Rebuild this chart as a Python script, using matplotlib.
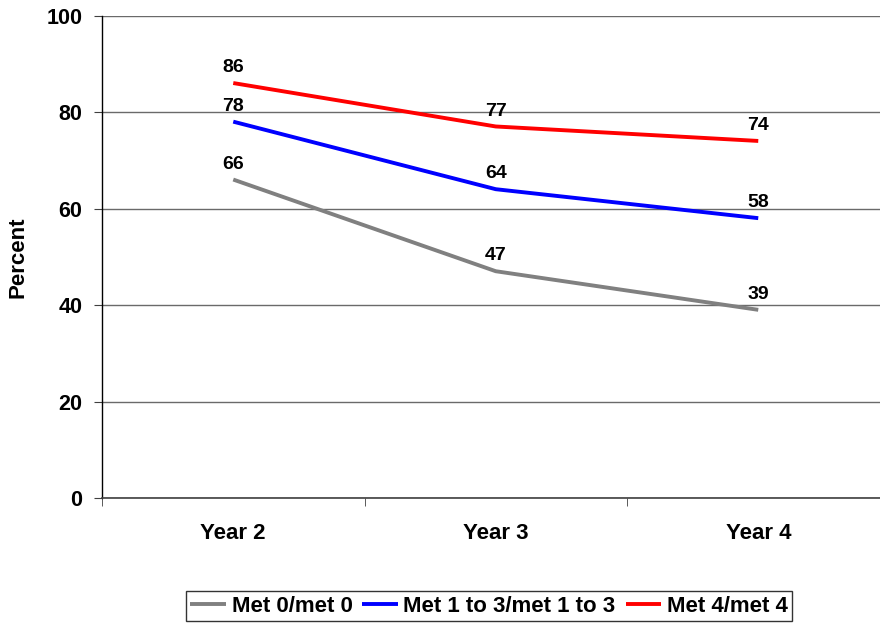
import matplotlib
matplotlib.use("Agg")
import matplotlib.pyplot as plt

categories = ["Year 2", "Year 3", "Year 4"]
series_names = ["Met 0/met 0", "Met 1 to 3/met 1 to 3", "Met 4/met 4"]
met0 = [66, 47, 39]
met13 = [78, 64, 58]
met4 = [86, 77, 74]
colors = ["#808080", "#0000FF", "#FF0000"]

plt.rcParams['font.family'] = ['Liberation Sans', 'DejaVu Sans']
plt.rcParams['font.weight'] = 'bold'

W, H = 880, 623
fig = plt.figure(figsize=(W / 100, H / 100), dpi=100)
left, right, top, bottom = 102, 889.5, 15.5, 498
ax = fig.add_axes([left / W, 1 - bottom / H, (right - left) / W, (bottom - top) / H])

x = list(range(len(categories)))
for vals, name, c in zip([met0, met13, met4], series_names, colors):
    ax.plot(x, vals, color=c, lw=2.8, label=name, solid_capstyle='butt',
            solid_joinstyle='round')
    for xi, v in zip(x, vals):
        ax.annotate(str(v), (xi, v), xytext=(0, 5), textcoords='offset points',
                    ha='center', va='bottom', fontsize=14, fontweight='bold')

ax.set_xlim(-0.5, 2.5)
ax.set_ylim(0, 100)
ax.set_yticks([0, 20, 40, 60, 80, 100])
ax.set_yticklabels(["0", "20", "40", "60", "80", "100"], fontsize=15.5, fontweight='bold')
ax.set_xticks(x)
ax.set_xticklabels(categories, fontsize=16, fontweight='bold')
ax.set_xticks([-0.5, 0.5, 1.5, 2.5], minor=True)
ax.tick_params(axis='x', which='major', length=0, pad=18)
ax.tick_params(axis='x', which='minor', length=6, direction='out', color='#404040')
ax.tick_params(axis='y', length=6, direction='out', color='#404040', pad=8)
ax.yaxis.grid(True, color='#6a6a6a', lw=1)
ax.set_axisbelow(True)
for s in ['top', 'right']:
    ax.spines[s].set_visible(False)
ax.spines['left'].set_color('black')
ax.spines['bottom'].set_color('#404040')
ax.spines['left'].set_linewidth(1)
ax.spines['bottom'].set_linewidth(1.2)

fig.text(18 / W, 1 - 257 / H, "Percent", rotation=90, ha='center', va='center',
         fontsize=16, fontweight='bold')

leg = fig.legend(loc='center', bbox_to_anchor=(489 / W, 1 - 606 / H), ncol=3,
                 frameon=True, fancybox=False, edgecolor='black', fontsize=16,
                 handlelength=1.6, handletextpad=0.25, columnspacing=0.45,
                 borderpad=0.2, borderaxespad=0)
leg.get_frame().set_linewidth(1)
for t in leg.get_texts():
    t.set_fontweight('bold')

fig.savefig("out.png", dpi=100)
